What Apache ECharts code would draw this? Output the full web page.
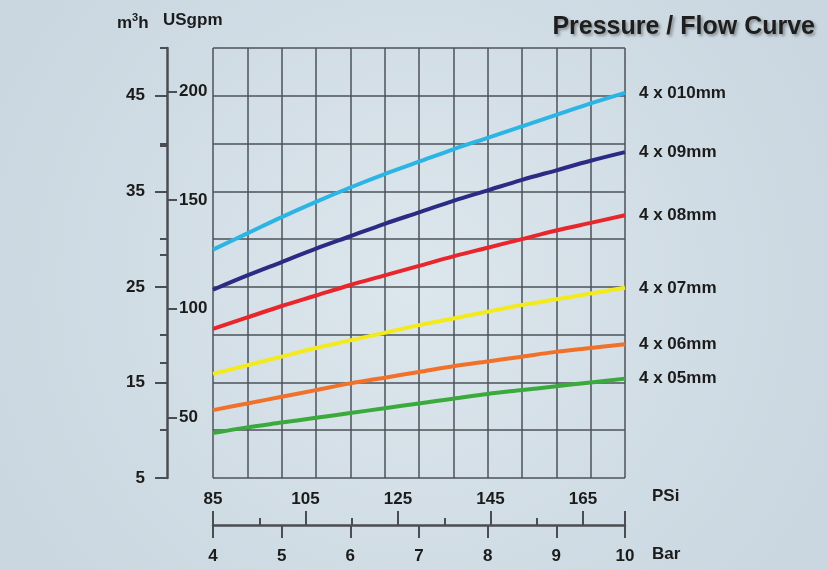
<!DOCTYPE html>
<html>
<head>
<meta charset="utf-8">
<script src="https://cdn.jsdelivr.net/npm/echarts@6/dist/echarts.min.js"></script>
<style>
html,body{margin:0;padding:0;background:#d4dfe7;}
#chart{width:827px;height:570px;}
</style>
</head>
<body>
<div id="chart"></div>
<script>
// ---- data ----
const pressureBar = [4, 4.5, 5, 5.5, 6, 6.5, 7, 7.5, 8, 8.5, 9, 9.5, 10];
const seriesNames = ['4 x 010mm', '4 x 09mm', '4 x 08mm', '4 x 07mm', '4 x 06mm', '4 x 05mm'];
const flow010 = [28.9, 30.6, 32.3, 33.9, 35.4, 36.8, 38.1, 39.4, 40.6, 41.8, 43.0, 44.2, 45.3];
const flow09  = [24.7, 26.2, 27.6, 29.0, 30.3, 31.6, 32.8, 34.0, 35.1, 36.2, 37.2, 38.2, 39.1];
const flow08  = [20.6, 21.8, 23.0, 24.1, 25.2, 26.2, 27.2, 28.2, 29.1, 30.0, 30.9, 31.7, 32.5];
const flow07  = [15.9, 16.8, 17.7, 18.6, 19.4, 20.2, 21.0, 21.7, 22.4, 23.1, 23.7, 24.3, 24.9];
const flow06  = [12.1, 12.8, 13.5, 14.2, 14.9, 15.5, 16.1, 16.7, 17.2, 17.7, 18.2, 18.6, 19.0];
const flow05  = [9.7, 10.3, 10.8, 11.3, 11.8, 12.3, 12.8, 13.3, 13.8, 14.2, 14.6, 15.0, 15.4];
const flows = [flow010, flow09, flow08, flow07, flow06, flow05];
const colors = ['#2cb5e4', '#2c2b84', '#e8262b', '#f3ea1c', '#f2712a', '#3aaa3c'];
const barTicks = [4, 5, 6, 7, 8, 9, 10];
const psiTicks = [85, 105, 125, 145, 165];
const m3hLabels = [5, 15, 25, 35, 45];
const gpmLabels = [50, 100, 150, 200];

// ---- layout helpers ----
const GPM_PER_M3H = 4.40287;
const M3H_MIN = 5, M3H_MAX = 50;
const PLOT_LEFT = 213, PLOT_W = 412, PLOT_TOP = 48, PLOT_H = 430;
const PLOT_BOTTOM = PLOT_TOP + PLOT_H;
const yPx = m => PLOT_BOTTOM - (m - M3H_MIN) / (M3H_MAX - M3H_MIN) * PLOT_H;
const subGrid = (mTop, mBottom) => ({
  left: PLOT_LEFT, width: PLOT_W, top: yPx(mTop), height: yPx(mBottom) - yPx(mTop)
});
const PSI_START = psiTicks[0];
const PSI_PER_PX = 80 / 370;
const psiSpan = PLOT_W * PSI_PER_PX;

const FONT = "'Liberation Sans', Arial, sans-serif";
const FS = 17;
const txt = '#1b1b1b';
const gridColor = '#4c5258';
const axisColor = '#4a4e52';

const chart = echarts.init(document.getElementById('chart'), null, {renderer: 'canvas'});

const series = flows.map((f, i) => ({
  name: seriesNames[i],
  type: 'line',
  xAxisIndex: 0, yAxisIndex: 0,
  data: pressureBar.map((p, j) => [p, f[j]]),
  smooth: 0.35,
  symbol: 'none',
  lineStyle: {width: 4, color: colors[i]},
  itemStyle: {color: colors[i]},
  endLabel: {
    show: true, formatter: '{a}', distance: 14,
    color: txt, fontFamily: FONT, fontSize: FS, fontWeight: 'bold'
  },
  z: 5
}));

const noZero = {onZero: false};

const option = {
  backgroundColor: {
    type: 'radial', x: 0.5, y: 0.5, r: 0.8,
    colorStops: [{offset: 0, color: '#dce6ed'}, {offset: 1, color: '#cad7e0'}]
  },
  animation: false,
  title: {
    text: 'Pressure / Flow Curve', right: 7, top: 10,
    textStyle: {
      fontFamily: FONT, fontSize: 25, fontWeight: 'bold', color: '#1e1e1e',
      textShadowColor: 'rgba(0,0,0,0.35)', textShadowBlur: 3,
      textShadowOffsetX: 2, textShadowOffsetY: 2
    }
  },
  grid: [
    {left: PLOT_LEFT, width: PLOT_W, top: PLOT_TOP, height: PLOT_H},
    subGrid(m3hLabels[m3hLabels.length - 1], m3hLabels[0]),
    subGrid(gpmLabels[gpmLabels.length - 1] / GPM_PER_M3H, gpmLabels[0] / GPM_PER_M3H),
    subGrid(175 / GPM_PER_M3H, 75 / GPM_PER_M3H)
  ],
  xAxis: [
    { // data axis (bar) - grid lines only
      type: 'value', gridIndex: 0, min: 4, max: 10, interval: 0.5,
      axisLine: {show: false, onZero: false}, axisTick: {show: false}, axisLabel: {show: false},
      splitLine: {show: true, lineStyle: {color: gridColor, width: 1.5}}
    },
    { // Bar scale
      type: 'value', gridIndex: 0, position: 'bottom', offset: 47,
      min: barTicks[0], max: barTicks[barTicks.length - 1], interval: 1,
      axisLine: {show: true, onZero: false, lineStyle: {color: axisColor, width: 2.5}},
      axisTick: {show: true, length: 13, lineStyle: {color: axisColor, width: 2}},
      axisLabel: {show: true, margin: 23, color: txt, fontFamily: FONT, fontSize: FS, fontWeight: 'bold'},
      splitLine: {show: false}
    },
    { // PSi scale (offset from 85)
      type: 'value', gridIndex: 0, position: 'bottom', offset: 47,
      min: 0, max: psiSpan, interval: 20,
      axisLine: {show: false, onZero: false},
      axisTick: {show: true, inside: true, length: 14, lineStyle: {color: axisColor, width: 2}},
      minorTick: {show: true, splitNumber: 2, length: 7, lineStyle: {color: axisColor, width: 2}},
      axisLabel: {show: true, inside: true, margin: 17, showMaxLabel: false,
        formatter: v => String(Math.round(v + PSI_START)),
        color: txt, fontFamily: FONT, fontSize: FS, fontWeight: 'bold'},
      splitLine: {show: false}
    },
    {type: 'value', gridIndex: 1, show: false, min: 0, max: 1, axisLine: noZero},
    {type: 'value', gridIndex: 2, show: false, min: 0, max: 1, axisLine: noZero},
    {type: 'value', gridIndex: 3, show: false, min: 0, max: 1, axisLine: noZero}
  ],
  yAxis: [
    { // data axis m3h
      type: 'value', gridIndex: 0, position: 'left', offset: 46,
      min: M3H_MIN, max: M3H_MAX, interval: 5,
      axisLine: {show: true, onZero: false, lineStyle: {color: axisColor, width: 2.5}},
      axisTick: {show: true, length: 7, lineStyle: {color: axisColor, width: 2}},
      axisLabel: {show: false},
      splitLine: {show: true, lineStyle: {color: gridColor, width: 1.5}}
    },
    { // m3h labels (offset from 5)
      type: 'value', gridIndex: 1, position: 'left', offset: 46,
      min: 0, max: m3hLabels[m3hLabels.length - 1] - m3hLabels[0], interval: 10,
      axisLine: {show: false, onZero: false},
      axisTick: {show: true, length: 12, lineStyle: {color: axisColor, width: 2}},
      axisLabel: {show: true, margin: 22, formatter: v => String(v + m3hLabels[0]),
        color: txt, fontFamily: FONT, fontSize: FS, fontWeight: 'bold'},
      splitLine: {show: false}
    },
    { // USgpm labels
      type: 'value', gridIndex: 2, position: 'left', offset: 46,
      min: gpmLabels[0], max: gpmLabels[gpmLabels.length - 1], interval: 50,
      axisLine: {show: false, onZero: false},
      axisTick: {show: true, inside: true, length: 10, lineStyle: {color: axisColor, width: 2}},
      axisLabel: {show: true, inside: true, margin: 12,
        color: txt, fontFamily: FONT, fontSize: FS, fontWeight: 'bold'},
      splitLine: {show: false}
    },
    { // USgpm minor ticks
      type: 'value', gridIndex: 3, position: 'left', offset: 46,
      min: 75, max: 175, interval: 50,
      axisLine: {show: false, onZero: false},
      axisTick: {show: true, length: 7, lineStyle: {color: axisColor, width: 2}},
      axisLabel: {show: false}, splitLine: {show: false}
    }
  ],
  graphic: [
    {type: 'text', left: 117, top: 12, style: {
      text: '{b|m}{s|3}{b|h}', fill: txt,
      rich: {
        b: {fontFamily: FONT, fontSize: FS, fontWeight: 'bold', fill: txt, verticalAlign: 'bottom', lineHeight: 20},
        s: {fontFamily: FONT, fontSize: 11, fontWeight: 'bold', fill: txt, verticalAlign: 'top', lineHeight: 20}
      }
    }},
    {type: 'text', left: 163, top: 12, style: {text: 'USgpm', fill: txt, font: "bold " + FS + "px " + FONT}},
    {type: 'text', left: 652, top: 488, style: {text: 'PSi', fill: txt, font: "bold " + FS + "px " + FONT}},
    {type: 'text', left: 652, top: 546, style: {text: 'Bar', fill: txt, font: "bold " + FS + "px " + FONT}}
  ],
  series: series
};
chart.setOption(option);
</script>
</body>
</html>
